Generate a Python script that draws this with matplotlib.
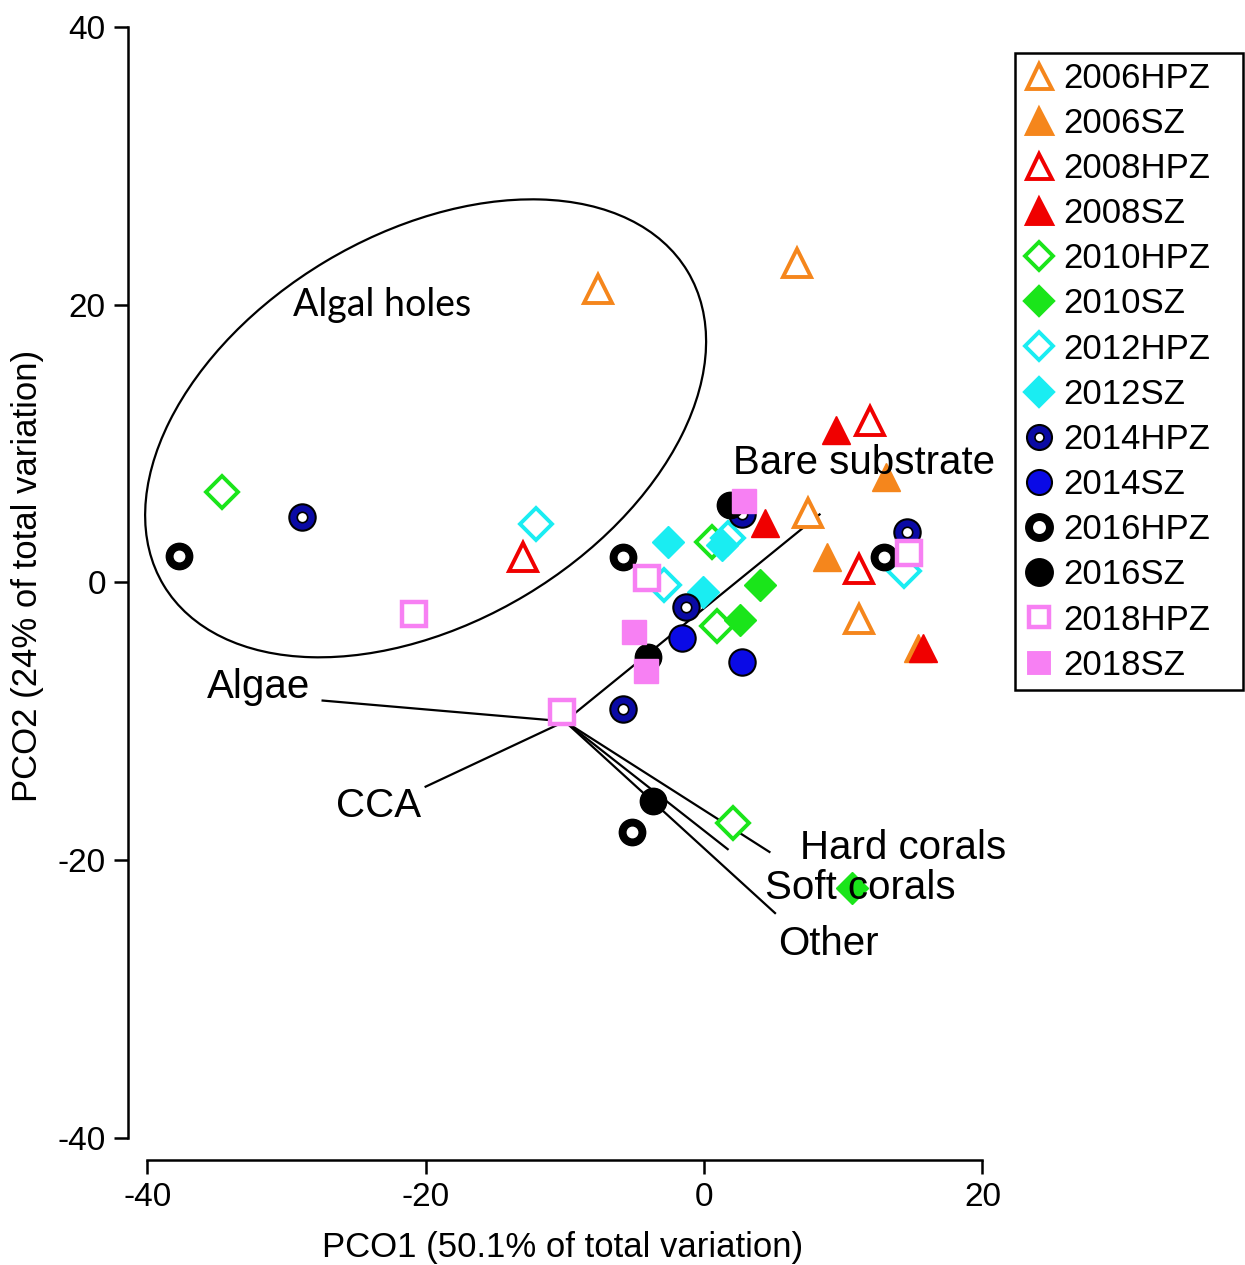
import matplotlib
matplotlib.use("Agg")
import matplotlib.pyplot as plt
from matplotlib.lines import Line2D
from matplotlib.patches import Ellipse

plt.rcParams['font.family'] = ['Liberation Sans', 'DejaVu Sans']
plt.rcParams['axes.unicode_minus'] = False

# PCO scores per group (x = PCO1, y = PCO2)
hpz06_x = [-7.6, 6.7, 7.5, 11.1]
hpz06_y = [21.1, 23.0, 5.0, -2.6]
sz06_x = [13.1, 8.8, 15.4]
sz06_y = [7.6, 1.8, -4.7]
hpz08_x = [-13.0, 11.9, 11.1]
hpz08_y = [1.8, 11.6, 1.0]
sz08_x = [9.5, 4.4, 15.7]
sz08_y = [11.0, 4.3, -4.7]
hpz10_x = [-34.6, 0.6, 0.9, 2.1]
hpz10_y = [6.5, 2.9, -3.1, -17.3]
sz10_x = [4.0, 2.6, 10.6]
sz10_y = [-0.2, -2.7, -22.0]
hpz12_x = [-12.1, -2.9, 1.7, 14.4]
hpz12_y = [4.2, -0.2, 3.2, 0.8]
sz12_x = [-2.6, -0.1, 1.3]
sz12_y = [2.9, -0.7, 2.7]
hpz14_x = [-28.9, -1.3, -5.8, 14.6, 2.7]
hpz14_y = [4.7, -1.8, -9.1, 3.6, 4.9]
sz14_x = [-1.6, 2.7]
sz14_y = [-4.0, -5.7]
hpz16_x = [-37.7, -5.8, 12.9, -5.2]
hpz16_y = [1.9, 1.8, 1.8, -18.0]
sz16_x = [1.9, -4.0, -3.7]
sz16_y = [5.6, -5.4, -15.7]
hpz18_x = [-20.8, -4.1, -10.2, 14.7]
hpz18_y = [-2.3, 0.3, -9.3, 2.1]
sz18_x = [2.9, -5.0, -4.2]
sz18_y = [5.9, -3.6, -6.4]

# biplot vectors (origin, end points, label positions)
vec_origin = (-10.0, -10.0)
vec_names = ["Bare substrate", "Algae", "CCA", "Hard corals", "Soft corals", "Other"]
vec_end_x = [8.3, -27.4, -20.0, 4.7, 1.7, 5.1]
vec_end_y = [4.9, -8.5, -14.7, -19.4, -19.2, -23.8]
lab_x = [2.1, -28.3, -20.3, 6.9, 4.4, 5.3]
lab_y = [8.6, -7.5, -16.1, -19.1, -22.0, -26.0]
lab_ha = ["left", "right", "right", "left", "left", "left"]

orange = '#F5861C'
red = '#F00000'
green = '#1AE51A'
cyan = '#1AEDF2'
blue_ring = '#0A0AA5'
blue = '#0A0AE6'
pink = '#F780F3'

fig = plt.figure(figsize=(12.45, 12.65), dpi=100)
ax = fig.add_axes([128/1245, 1-1160/1265, (1010-128)/1245, (1160-20)/1265])
ax.set_xlim(-41.38, 21.98)
ax.set_ylim(-41.58, 40.5)

# algal holes ellipse
ax.add_patch(Ellipse((-20.0, 11.1), 43.9, 28.0, angle=31, fill=False, ec='black', lw=1.6))
ax.text(-23.1, 20.0, "Algal holes", fontsize=27, family='Lato', ha='center', va='center')

# vectors
for i in range(len(vec_names)):
    ax.plot([vec_origin[0], vec_end_x[i]], [vec_origin[1], vec_end_y[i]], color='black', lw=1.6, zorder=1)

ms_tri = 20
ms_dia = 16
ms_sq = 17
ms_circ = 19
ew = 2.8

# triangles
ax.plot(hpz06_x, hpz06_y, '^', ms=ms_tri, mfc='white', mec=orange, mew=ew, ls='none', zorder=2)
ax.plot(sz06_x, sz06_y, '^', ms=ms_tri, mfc=orange, mec=orange, ls='none', zorder=2)
ax.plot(hpz08_x, hpz08_y, '^', ms=ms_tri, mfc='white', mec=red, mew=ew, ls='none', zorder=2)
ax.plot(sz08_x, sz08_y, '^', ms=ms_tri, mfc=red, mec=red, ls='none', zorder=2)
# diamonds
ax.plot(hpz10_x, hpz10_y, 'D', ms=ms_dia, mfc='white', mec=green, mew=ew, ls='none', zorder=2)
ax.plot(sz10_x, sz10_y, 'D', ms=ms_dia, mfc=green, mec=green, ls='none', zorder=2)
ax.plot(hpz12_x, hpz12_y, 'D', ms=ms_dia, mfc='white', mec=cyan, mew=ew, ls='none', zorder=2)
ax.plot(sz12_x, sz12_y, 'D', ms=ms_dia, mfc=cyan, mec=cyan, ls='none', zorder=2)
# circles
ax.plot(hpz14_x, hpz14_y, 'o', ms=ms_circ, mfc=blue_ring, mec='black', mew=1.5, ls='none', zorder=2)
ax.plot(hpz14_x, hpz14_y, 'o', ms=7.5, mfc='white', mec='black', mew=1.2, ls='none', zorder=2)
ax.plot(sz14_x, sz14_y, 'o', ms=ms_circ, mfc=blue, mec='black', mew=1.5, ls='none', zorder=2)
ax.plot(hpz16_x, hpz16_y, 'o', ms=ms_circ, mfc='black', mec='black', ls='none', zorder=2)
ax.plot(hpz16_x, hpz16_y, 'o', ms=7.5, mfc='white', mec='white', ls='none', zorder=2)
ax.plot(sz16_x, sz16_y, 'o', ms=ms_circ, mfc='black', mec='black', ls='none', zorder=2)
# squares
ax.plot(hpz18_x, hpz18_y, 's', ms=ms_sq, mfc='white', mec=pink, mew=ew + 0.4, ls='none', zorder=2)
ax.plot(sz18_x, sz18_y, 's', ms=ms_sq, mfc=pink, mec=pink, ls='none', zorder=2)

for i in range(len(vec_names)):
    ax.text(lab_x[i], lab_y[i], vec_names[i], fontsize=29,
            ha=lab_ha[i], va='center', zorder=3)

# axes styling (detached R style spines)
for s in ['top', 'right']:
    ax.spines[s].set_visible(False)
ax.spines['left'].set_bounds(-40, 40)
ax.spines['bottom'].set_bounds(-40, 20)
ax.spines['left'].set_linewidth(1.8)
ax.spines['bottom'].set_linewidth(1.8)
ax.set_xticks([-40, -20, 0, 20])
ax.set_yticks([-40, -20, 0, 20, 40])
ax.tick_params(length=10, width=1.8, labelsize=24, pad=6)
ax.set_xlabel("PCO1 (50.1% of total variation)", fontsize=25)
ax.set_ylabel("PCO2 (24% of total variation)", fontsize=25)
ax.xaxis.set_label_coords(0.493, -0.062)
ax.yaxis.set_label_coords(-0.095, 0.512)

# legend
def h(marker, mfc, mec, ms, mew=ew):
    return Line2D([], [], marker=marker, ls='none', ms=ms, mfc=mfc, mec=mec, mew=mew)

handles = [
    h('^', 'white', orange, 18), h('^', orange, orange, 18),
    h('^', 'white', red, 18), h('^', red, red, 18),
    h('D', 'white', green, 14), h('D', green, green, 14),
    h('D', 'white', cyan, 14), h('D', cyan, cyan, 14),
    (h('o', blue_ring, 'black', 18, 1.5), h('o', 'white', 'black', 6.5, 1.2)),
    h('o', blue, 'black', 18, 1.5),
    (h('o', 'black', 'black', 18), h('o', 'white', 'white', 6.5)),
    h('o', 'black', 'black', 18),
    h('s', 'white', pink, 15, 3.2), h('s', pink, pink, 15),
]
labels = ["2006HPZ", "2006SZ", "2008HPZ", "2008SZ", "2010HPZ", "2010SZ", "2012HPZ",
          "2012SZ", "2014HPZ", "2014SZ", "2016HPZ", "2016SZ", "2018HPZ", "2018SZ"]
leg = fig.legend(handles, labels, loc='upper left',
                 bbox_to_anchor=(1015/1245, 1-692/1265, 228/1245, (692-53)/1265),
                 mode='expand', borderaxespad=0, fancybox=False, framealpha=1, edgecolor='black',
                 prop={'size': 25}, labelspacing=0.35,
                 handlelength=0.9, handletextpad=0.25, borderpad=0.25)
leg.get_frame().set_linewidth(1.8)

fig.savefig("out.png", dpi=100)
